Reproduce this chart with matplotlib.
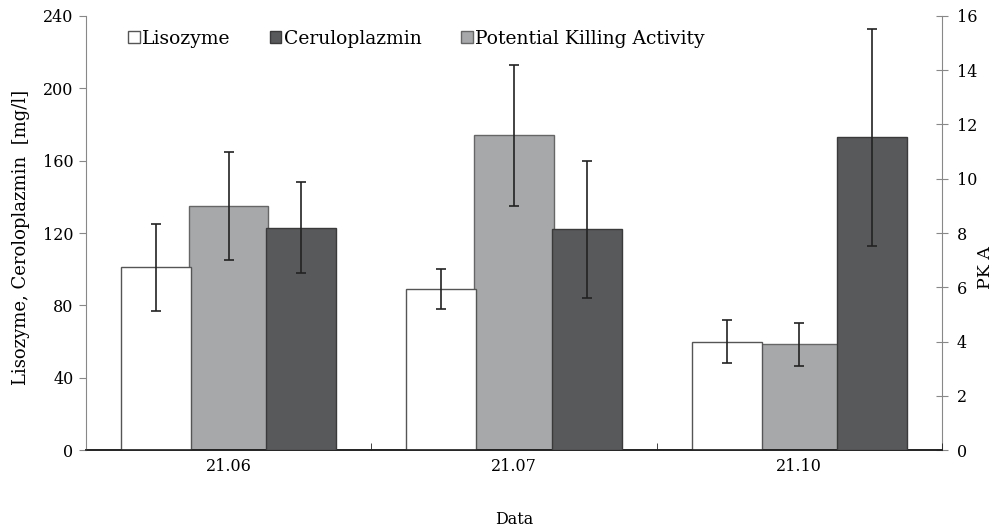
import numpy as np
import matplotlib.pyplot as plt

plt.rcParams['font.family'] = ['DejaVu Serif']
plt.rcParams['font.size'] = 11.5

dates = ['21.06', '21.07', '21.10']
lisozyme = [101, 89, 60]
lisozyme_err = [24, 11, 12]
cerulo = [123, 122, 173]
cerulo_err = [25, 38, 60]
pka = [9.0, 11.6, 3.9]
pka_err = [2.0, 2.6, 0.8]

x = np.arange(len(dates))
off = 0.255
w_side = 0.245
w_mid = 0.277

fig = plt.figure(figsize=(9.96, 5.32), dpi=100)
ax = fig.add_axes([0.0863, 0.154, 0.8595, 0.816])
ax2 = ax.twinx()

err_kw = dict(ecolor='#222222', elinewidth=1.2, capsize=3.5, capthick=1.2)

b1 = ax.bar(x - off, lisozyme, w_side, yerr=lisozyme_err, color='white',
            edgecolor='#555555', linewidth=1, error_kw=err_kw, zorder=2, label='Lisozyme')
b3 = ax.bar(x + off, cerulo, w_side, yerr=cerulo_err, color='#58595b',
            edgecolor='#3a3a3a', linewidth=1, error_kw=err_kw, zorder=3, label='Ceruloplazmin')
b2 = ax2.bar(x, pka, w_mid, yerr=pka_err, color='#a7a8aa',
             edgecolor='#666666', linewidth=1, error_kw=err_kw, zorder=2,
             label='Potential Killing Activity')

# dark bars drawn over the PKA bars
ax.set_zorder(ax2.get_zorder() + 1)
ax.patch.set_visible(False)

ax.set_xlim(-0.5, 2.5)
ax.set_ylim(0, 240)
ax2.set_ylim(0, 16)
ax.set_yticks(np.arange(0, 241, 40))
ax2.set_yticks(np.arange(0, 17, 2))

ax.set_xticks(x)
ax.set_xticklabels(dates)
ax.set_xticks(np.arange(-0.5, 2.6, 1), minor=True)
ax.tick_params(axis='x', which='major', length=0, pad=6)
ax.tick_params(axis='x', which='minor', direction='in', length=5, color='#222222')

ax.tick_params(axis='y', direction='out', length=5, color='#888888', pad=4)
ax2.tick_params(axis='y', direction='inout', length=9, color='#888888', pad=6)

for a in (ax, ax2):
    a.spines['top'].set_visible(False)
    a.spines['bottom'].set_color('#222222')
    a.spines['bottom'].set_linewidth(1.2)
ax.spines['left'].set_color('#888888')
ax.spines['right'].set_visible(False)
ax2.spines['left'].set_visible(False)
ax2.spines['right'].set_color('#888888')

ax.set_ylabel('Lisozyme, Ceroloplazmin  [mg/l]', fontsize=13)
ax.yaxis.set_label_coords(-0.065, 0.49)
ax2.set_ylabel('PK A', fontsize=12.5)
ax2.yaxis.set_label_coords(1.041, 0.42)
ax.set_xlabel('Data', fontsize=11.5)
ax.xaxis.set_label_coords(0.5, -0.141)

ax.legend([b1, b3, b2], ['Lisozyme', 'Ceruloplazmin', 'Potential Killing Activity'],
          loc='upper left', bbox_to_anchor=(0.033, 1.0), ncol=3, frameon=False,
          fontsize=13.5, handlelength=0.6, handleheight=0.6, handletextpad=0.15,
          columnspacing=2.1, borderaxespad=0.35)

fig.savefig('out.png', dpi=100)
